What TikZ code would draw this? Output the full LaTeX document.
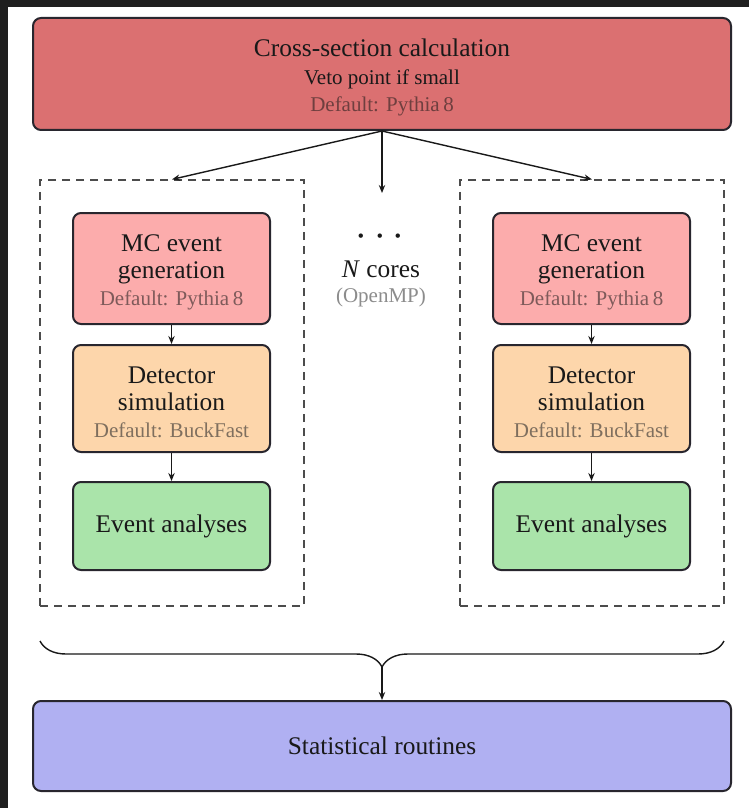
\documentclass[tikz,border=0pt]{standalone}
\usepackage{fontspec}
\setmainfont{Liberation Serif}
\usetikzlibrary{arrows.meta,decorations.pathreplacing}
\definecolor{framedark}{RGB}{31,31,31}
\definecolor{topred}{RGB}{219,112,113}
\definecolor{mcred}{RGB}{252,172,172}
\definecolor{detpeach}{RGB}{253,214,171}
\definecolor{evgreen}{RGB}{170,228,170}
\definecolor{statblue}{RGB}{176,176,242}
\definecolor{bordercol}{RGB}{40,38,46}
\definecolor{txtdark}{RGB}{25,25,25}
\colorlet{topgray}{topred!50!black!90!gray}
\colorlet{mcgray}{mcred!50!black!90!gray}
\colorlet{detgray}{detpeach!50!black!80!gray}
\colorlet{wgray}{white!55!black}
\newcommand\mtxt{\fontsize{12.7}{13.5}\selectfont}
\newcommand\stxt{\fontsize{10.5}{13.5}\selectfont}
\newcommand\tstrut{\rule{0pt}{12pt}}
\tikzset{
  procbox/.style={draw=bordercol, line width=1pt, rounded corners=4pt,
    align=center, inner sep=0pt, text=txtdark, font=\mtxt},
  corebox/.style={draw=black!70, line width=0.6pt, dash pattern=on 4pt off 3pt,
    inner sep=0pt},
  arr/.style={draw=txtdark, line width=0.7pt, -{Stealth[length=4pt,width=3.2pt]}},
  bracestyle/.style={draw=txtdark, line width=0.7pt,
    decorate, decoration={brace, mirror, amplitude=13pt}}
}
\begin{document}
\begin{tikzpicture}[x=0.5pt,y=-0.5pt]
\useasboundingbox (0,0) rectangle (749,808);
\fill[white] (0,0) rectangle (749,808);
\fill[framedark] (0,0) rectangle (749,7);
\fill[framedark] (0,0) rectangle (8,808);

% top box
\node[procbox, fill=topred, minimum width=349pt, minimum height=56pt] (xsec) at (382,74)
  {\tstrut Cross-section calculation\\[0.5pt]{\stxt Veto point if small}\\{\stxt\color{topgray}Default: Pythia\,8}};

% dashed core boxes
\node[corebox, minimum width=132pt, minimum height=213pt] (lcore) at (172,393) {};
\node[corebox, minimum width=132pt, minimum height=213pt] (rcore) at (592,393) {};

% left chain
\node[procbox, fill=mcred, minimum width=98.5pt, minimum height=55.5pt] (lmc) at (171.5,268.5)
  {\tstrut MC event\\generation\\{\stxt\color{mcgray}Default: Pythia\,8}};
\node[procbox, fill=detpeach, minimum width=98.5pt, minimum height=53.5pt] (ldet) at (171.5,398.5)
  {\tstrut Detector\\simulation\\{\stxt\color{detgray}Default: BuckFast}};
\node[procbox, fill=evgreen, minimum width=98.5pt, minimum height=44pt] (lev) at (171.5,526)
  {Event analyses};

% right chain
\node[procbox, fill=mcred, minimum width=98.5pt, minimum height=55.5pt] (rmc) at (591.5,268.5)
  {\tstrut MC event\\generation\\{\stxt\color{mcgray}Default: Pythia\,8}};
\node[procbox, fill=detpeach, minimum width=98.5pt, minimum height=53.5pt] (rdet) at (591.5,398.5)
  {\tstrut Detector\\simulation\\{\stxt\color{detgray}Default: BuckFast}};
\node[procbox, fill=evgreen, minimum width=98.5pt, minimum height=44pt] (rev) at (591.5,526)
  {Event analyses};

% middle
\node[inner sep=0pt, text=txtdark] (dots) at (380,237) {\fontsize{22}{22}\selectfont$\cdots$};
\node[inner sep=0pt, text=txtdark, font=\mtxt] (ncores) at (381,269) {\textit{N} cores};
\node[inner sep=0pt, text=wgray, font=\stxt] (openmp) at (381,297) {(OpenMP)};

% bottom box
\node[procbox, fill=statblue, minimum width=349pt, minimum height=45pt] (stat) at (382,746)
  {Statistical routines};

% connectors
\draw[arr] (xsec.south) -- (lcore.north);
\draw[arr] (xsec.south) -- (rcore.north);
\draw[arr, shorten >=22pt] (xsec.south) -- (xsec.south |- dots.center);
\draw[arr] (lmc.south) -- (ldet.north);
\draw[arr] (ldet.south) -- (lev.north);
\draw[arr] (rmc.south) -- (rdet.north);
\draw[arr] (rdet.south) -- (rev.north);

% brace
\coordinate (bl) at (40,641);
\coordinate (br) at (724,641);
\coordinate (btip) at (382,667);
\draw[bracestyle] (bl) -- (br);
\draw[arr] (btip) -- (stat.north);
\end{tikzpicture}
\end{document}
